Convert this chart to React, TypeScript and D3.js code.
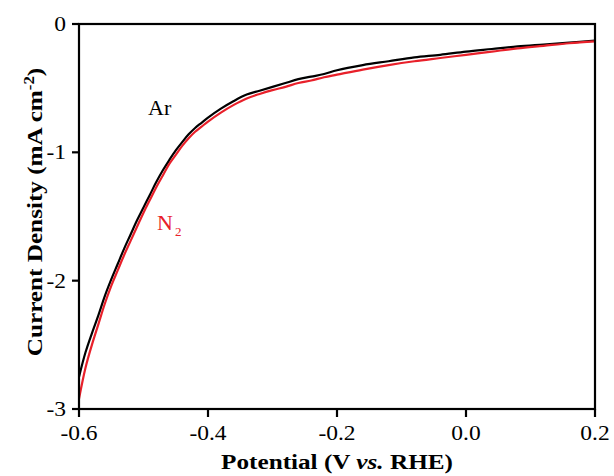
import React from "react";
import * as d3 from "d3";

const potentialAr = [-0.6, -0.59, -0.58, -0.57, -0.56, -0.55, -0.54, -0.53, -0.52, -0.51, -0.5, -0.49, -0.48, -0.47, -0.46, -0.45, -0.44, -0.43, -0.42, -0.41, -0.4, -0.38, -0.36, -0.34, -0.32, -0.3, -0.28, -0.26, -0.24, -0.22, -0.2, -0.16, -0.12, -0.08, -0.04, 0.0, 0.04, 0.08, 0.12, 0.16, 0.2];
const currentAr = [-2.75, -2.56, -2.41, -2.27, -2.12, -1.99, -1.87, -1.75, -1.64, -1.53, -1.43, -1.33, -1.23, -1.14, -1.06, -0.985, -0.92, -0.86, -0.81, -0.77, -0.73, -0.66, -0.6, -0.55, -0.52, -0.49, -0.46, -0.43, -0.41, -0.39, -0.36, -0.32, -0.29, -0.26, -0.24, -0.215, -0.195, -0.175, -0.16, -0.145, -0.13];

const potentialN2 = [-0.6, -0.59, -0.58, -0.57, -0.56, -0.55, -0.54, -0.53, -0.52, -0.51, -0.5, -0.49, -0.48, -0.47, -0.46, -0.45, -0.44, -0.43, -0.42, -0.41, -0.4, -0.38, -0.36, -0.34, -0.32, -0.3, -0.28, -0.26, -0.24, -0.22, -0.2, -0.16, -0.12, -0.08, -0.04, 0.0, 0.04, 0.08, 0.12, 0.16, 0.2];
const currentN2 = [-2.92, -2.68, -2.5, -2.34, -2.18, -2.04, -1.92, -1.8, -1.69, -1.58, -1.47, -1.37, -1.27, -1.18, -1.09, -1.02, -0.95, -0.89, -0.84, -0.8, -0.76, -0.69, -0.63, -0.58, -0.545, -0.515, -0.49, -0.46, -0.44, -0.415, -0.395, -0.355, -0.32, -0.29, -0.265, -0.24, -0.215, -0.19, -0.17, -0.15, -0.135];

const xTicks = [-0.6, -0.4, -0.2, 0.0, 0.2];
const xTickLabels = ["-0.6", "-0.4", "-0.2", "0.0", "0.2"];
const yTicks = [0, -1, -2, -3];
const yTickLabels = ["0", "-1", "-2", "-3"];

const W = 614;
const H = 476;
const M = { left: 79, right: 595, top: 24, bottom: 409 };
const FONT = "'Liberation Serif', 'Times New Roman', serif";
const RED = "#e8202a";

export default function App() {
  const x = d3.scaleLinear().domain([-0.6, 0.2]).range([M.left, M.right]);
  const y = d3.scaleLinear().domain([-3, 0]).range([M.bottom, M.top]);
  const line = d3
    .line<[number, number]>()
    .x((d) => x(d[0]))
    .y((d) => y(d[1]))
    .curve(d3.curveCatmullRom.alpha(0.5));
  const ar = potentialAr.map((v, i) => [v, currentAr[i]] as [number, number]);
  const n2 = potentialN2.map((v, i) => [v, currentN2[i]] as [number, number]);

  return (
    <svg
      width={W}
      height={H}
      style={{ position: "absolute", left: 0, top: 0, background: "#fff" }}
      fontFamily={FONT}
    >
      <rect x={0} y={0} width={W} height={H} fill="#fff" />
      <path d={line(ar) || ""} fill="none" stroke="#000" strokeWidth={2.2} />
      <path d={line(n2) || ""} fill="none" stroke={RED} strokeWidth={2.2} />
      <rect
        x={M.left}
        y={M.top}
        width={M.right - M.left}
        height={M.bottom - M.top}
        fill="none"
        stroke="#000"
        strokeWidth={2.2}
      />
      {xTicks.map((t, i) => (
        <g key={"x" + i}>
          <line x1={x(t)} x2={x(t)} y1={M.bottom} y2={M.bottom + 8} stroke="#000" strokeWidth={2.2} />
          <g transform={`translate(${x(t)}, 440) scale(1.12, 1)`}>
            <text x={0} y={0} textAnchor="middle" fontSize={21} fill="#000">
              {xTickLabels[i]}
            </text>
          </g>
        </g>
      ))}
      {yTicks.map((t, i) => (
        <g key={"y" + i}>
          <line x1={M.left - 7} x2={M.left} y1={y(t)} y2={y(t)} stroke="#000" strokeWidth={2.2} />
          <g transform={`translate(66, ${y(t) + 7}) scale(1.12, 1)`}>
            <text x={0} y={0} textAnchor="end" fontSize={21} fill="#000">
              {yTickLabels[i]}
            </text>
          </g>
        </g>
      ))}
      <g transform={`translate(${(M.left + M.right) / 2}, 469) scale(1.2, 1)`}>
        <text x={0} y={0} textAnchor="middle" fontSize={21} fontWeight="bold" fill="#000">
          Potential (V <tspan fontStyle="italic">vs.</tspan> RHE)
        </text>
      </g>
      <g transform={`translate(42, 212) rotate(-90) scale(1.2, 1)`}>
        <text x={0} y={0} textAnchor="middle" fontSize={21} fontWeight="bold" fill="#000">
          Current Density (mA cm<tspan dy={-8} fontSize={14}>-2</tspan>
          <tspan dy={8}>)</tspan>
        </text>
      </g>
      <text x={148} y={115} fontSize={22} fill="#000">
        Ar
      </text>
      <text x={157} y={230} fontSize={22} fill={RED}>
        N<tspan dx={2} dy={6} fontSize={13}>2</tspan>
      </text>
    </svg>
  );
}
